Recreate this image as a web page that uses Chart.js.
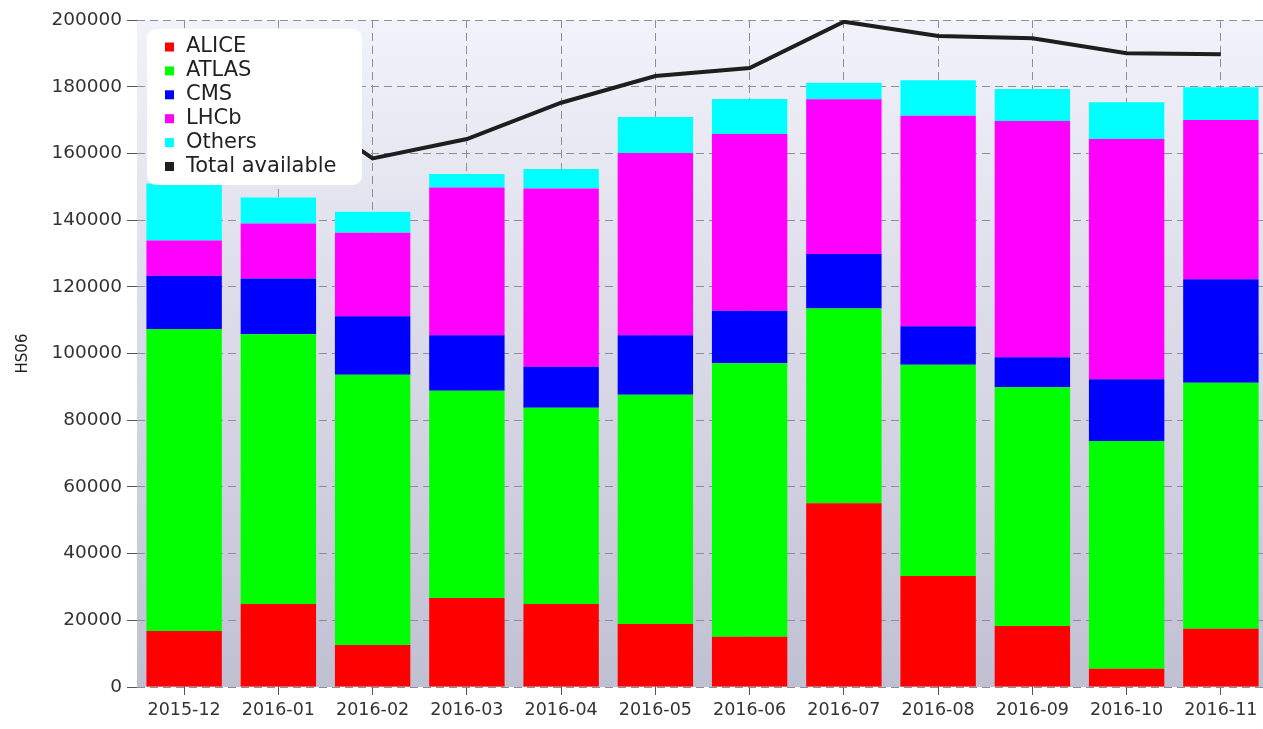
<!DOCTYPE html>
<html>
<head>
<meta charset="utf-8">
<title>HS06 usage per experiment</title>
<script src="https://cdn.jsdelivr.net/npm/chart.js@4/dist/chart.umd.min.js"></script>
<style>
    html, body { margin: 0; padding: 0; background: #fff; overflow: hidden; }
    #chart { display: block; }
</style>
</head>
<body>
<canvas id="chart" width="1268" height="729"></canvas>
<script>
// Data (HS06 per month)
const months = ['2015-12', '2016-01', '2016-02', '2016-03', '2016-04', '2016-05',
                '2016-06', '2016-07', '2016-08', '2016-09', '2016-10', '2016-11'];
const alice  = [16800, 24900, 12600, 26700, 24900, 18900, 15100, 55100, 33300, 18300, 5500, 17500];
const atlas  = [90500, 80900, 81000, 62100, 58800, 68700, 82000, 58400, 63300, 71600, 68300, 73700];
const cms    = [16000, 16700, 17600, 16700, 12300, 17900, 15700, 16300, 11600, 9000, 18500, 31100];
const lhcb   = [10600, 16500, 25000, 44300, 53500, 54600, 53000, 46400, 63100, 70800, 72000, 47700];
const others = [17100, 7800, 6300, 4000, 5800, 10800, 10500, 5000, 10600, 9600, 11000, 9800];
const totalAvailable = [172000, 178000, 158500, 164300, 175200, 183200, 185600, 199500, 195200, 194500, 190000, 189700];
const yTicks = [0, 20000, 40000, 60000, 80000, 100000, 120000, 140000, 160000, 180000, 200000];

const seriesColors = {
    ALICE: '#ff0000',
    ATLAS: '#00ff00',
    CMS: '#0000ff',
    LHCb: '#ff00ff',
    Others: '#00ffff',
    'Total available': '#1e1e1e'
};

// plot background: light at top, lavender grey at the bottom
const plotBackground = {
    id: 'plotBackground',
    beforeDraw(chart) {
        const { ctx, chartArea: a } = chart;
        const g = ctx.createLinearGradient(0, a.top, 0, a.bottom);
        g.addColorStop(0, '#f2f2fb');
        g.addColorStop(1, '#c0c0d3');
        ctx.save();
        ctx.fillStyle = g;
        ctx.fillRect(a.left, a.top, a.right - a.left, a.bottom - a.top);
        ctx.restore();
    }
};

// legend box inside the plot, drawn above bars and line
const insideLegend = {
    id: 'insideLegend',
    afterDatasetsDraw(chart) {
        const { ctx, chartArea: a } = chart;
        const x = a.left + 10, y = a.top + 9, w = 215, h = 156, r = 9;
        ctx.save();
        ctx.fillStyle = '#ffffff';
        ctx.beginPath();
        ctx.roundRect(x, y, w, h, r);
        ctx.fill();
        ctx.font = '21px "DejaVu Sans"';
        ctx.textBaseline = 'middle';
        Object.keys(seriesColors).forEach((name, i) => {
            const cy = y + 18 + i * 23.9;
            ctx.fillStyle = seriesColors[name];
            ctx.fillRect(x + 18, cy - 4.5, 9, 9);
            ctx.fillStyle = '#222';
            ctx.fillText(name, x + 39, cy);
        });
        ctx.restore();
    }
};

const barSet = (label, data) => ({
    type: 'bar',
    label,
    data,
    backgroundColor: seriesColors[label],
    borderWidth: 0,
    stack: 'usage',
    order: 1,
    barPercentage: 1,
    categoryPercentage: 0.8
});

new Chart(document.getElementById('chart'), {
    data: {
        labels: months,
        datasets: [
            {
                type: 'line',
                label: 'Total available',
                data: totalAvailable,
                borderColor: seriesColors['Total available'],
                borderWidth: 4,
                pointRadius: 0,
                tension: 0,
                fill: false,
                stack: 'total',
                order: 0
            },
            barSet('ALICE', alice),
            barSet('ATLAS', atlas),
            barSet('CMS', cms),
            barSet('LHCb', lhcb),
            barSet('Others', others)
        ]
    },
    options: {
        responsive: false,
        animation: false,
        devicePixelRatio: 1,
        layout: { padding: { top: 20, left: 0, right: 0, bottom: 0 } },
        plugins: {
            legend: { display: false },
            tooltip: { enabled: false }
        },
        scales: {
            x: {
                stacked: true,
                offset: true,
                grid: {
                    offset: false,
                    color: '#8e8e9a',
                    tickColor: '#555',
                    tickLength: 8
                },
                border: { display: false, dash: [8, 5] },
                ticks: {
                    color: '#333',
                    font: { family: 'DejaVu Sans', size: 17.5 },
                    padding: 5,
                    maxRotation: 0,
                    autoSkip: false
                },
                afterFit(scale) { scale.height = 42; }
            },
            y: {
                stacked: true,
                min: 0,
                max: 200000,
                afterBuildTicks(scale) { scale.ticks = yTicks.map(v => ({ value: v })); },
                grid: {
                    color: '#8e8e9a',
                    tickColor: '#555',
                    tickLength: 10
                },
                border: { display: false, dash: [8, 5] },
                ticks: {
                    color: '#333',
                    font: { family: 'DejaVu Sans', size: 18.5 },
                    padding: 5,
                    callback: v => String(v)
                },
                title: {
                    display: true,
                    text: 'HS06',
                    color: '#222',
                    font: { family: 'DejaVu Sans', size: 15 },
                    padding: { top: 14, bottom: 0 }
                },
                afterFit(scale) { scale.width = 137; }
            }
        }
    },
    plugins: [plotBackground, insideLegend]
});
</script>
</body>
</html>
